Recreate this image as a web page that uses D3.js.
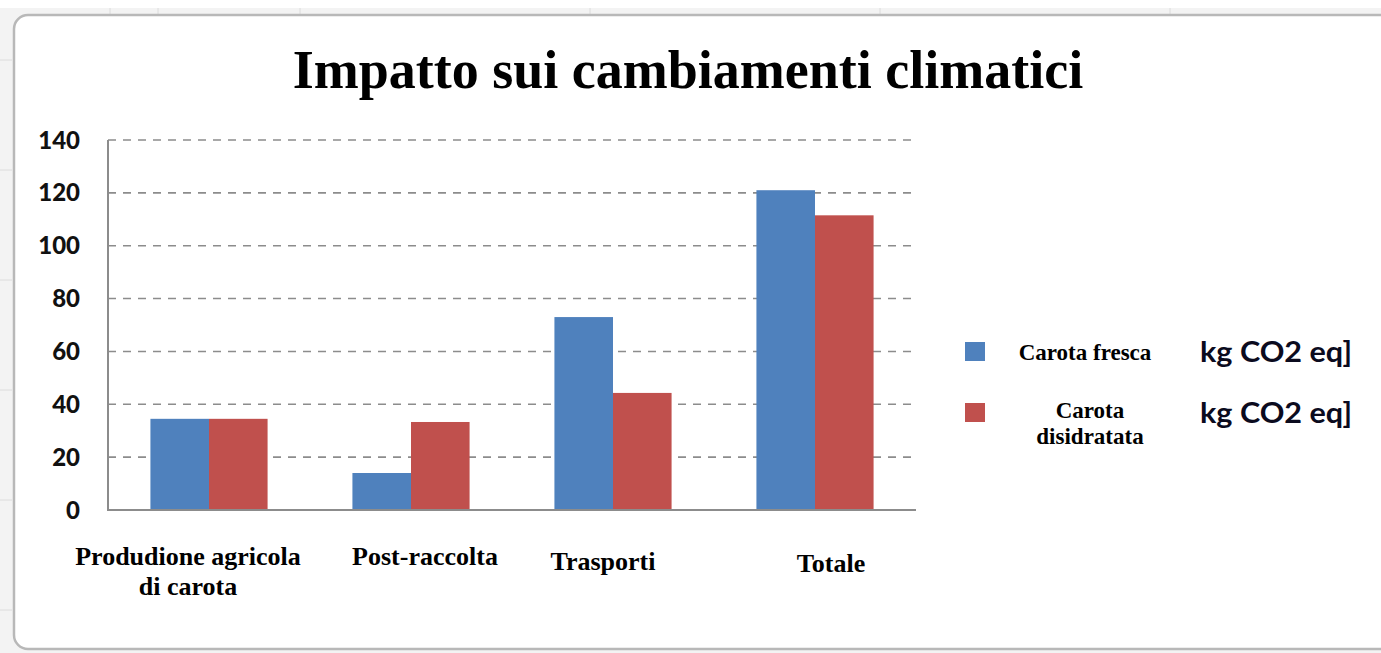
<!DOCTYPE html>
<html><head><meta charset="utf-8">
<script src="https://cdn.jsdelivr.net/npm/d3@7"></script>
<style>html,body{margin:0;padding:0;background:#fff;overflow:hidden}</style>
</head><body><svg id="c" width="1381" height="653"></svg>
<script>
const categories = [["Produdione agricola","di carota"],["Post-raccolta"],["Trasporti"],["Totale"]];
const carotaFresca = [34.5, 14, 73, 121];
const carotaDisidratata = [34.5, 33.3, 44.3, 111.5];
const seriesNames = [["Carota fresca"],["Carota","disidratata"]];
const unitLabel = "kg CO2 eq]";
const yTicks = [0,20,40,60,80,100,120,140];
const title = "Impatto sui cambiamenti climatici";

(function(){
const svg = d3.select("#c");
// Excel-like surroundings
svg.append("rect").attr("x",0).attr("y",0).attr("width",1381).attr("height",653).attr("fill","#f3f3f3");
svg.append("rect").attr("x",0).attr("y",0).attr("width",1381).attr("height",8).attr("fill","#ffffff");
[110,158,300,590,880,1170].forEach(x=>svg.append("line").attr("x1",x).attr("x2",x).attr("y1",8).attr("y2",16).attr("stroke","#dcdcdc"));
[60,170,280,390,500,610].forEach(yy=>svg.append("line").attr("x1",0).attr("x2",12).attr("y1",yy).attr("y2",yy).attr("stroke","#dcdcdc"));
svg.append("rect").attr("x",14).attr("y",15).attr("width",1385).attr("height",634).attr("rx",14)
  .attr("fill","#ffffff").attr("stroke","#b8b8b8").attr("stroke-width",2.5);

const pLeft=108, pRight=916, pTop=140, pBottom=510;
const x0 = d3.scaleBand().domain(d3.range(categories.length)).range([pLeft,pRight]).paddingInner(0.42).paddingOuter(0.21);
const x1 = d3.scaleBand().domain([0,1]).range([0,x0.bandwidth()]);
const y = d3.scaleLinear().domain([0,140]).range([pBottom,pTop]);

// gridlines
svg.append("g").selectAll("line").data(yTicks.filter(d=>d>0)).join("line")
  .attr("x1",pLeft).attr("x2",pRight).attr("y1",d=>y(d)).attr("y2",d=>y(d))
  .attr("stroke","#8c8c8c").attr("stroke-width",1.6).attr("stroke-dasharray","8,7");

// bars
const colors = ["#4f81bd","#c0504d"];
const series = [carotaFresca, carotaDisidratata];
series.forEach((vals,si)=>{
  svg.append("g").selectAll("rect").data(vals).join("rect")
    .attr("x",(d,i)=>x0(i)+x1(si)).attr("width",x1.bandwidth())
    .attr("y",d=>y(d)).attr("height",d=>y(0)-y(d)).attr("fill",colors[si]);
});

// axes lines
svg.append("line").attr("x1",pLeft).attr("x2",pLeft).attr("y1",pTop).attr("y2",pBottom+1).attr("stroke","#8c8c8c").attr("stroke-width",2);
svg.append("line").attr("x1",pLeft-1).attr("x2",pRight).attr("y1",pBottom).attr("y2",pBottom).attr("stroke","#8c8c8c").attr("stroke-width",2);

// y tick labels
svg.append("g").selectAll("text").data(yTicks).join("text")
  .attr("x",80).attr("y",d=>y(d)).attr("dy","0.36em").attr("text-anchor","end")
  .attr("font-family","Lato, 'Open Sans', sans-serif").attr("font-weight","900").attr("font-size",24)
  .attr("fill","#111").text(d=>d);

// x labels (Excel placed them slightly off-centre)
const labelDx = [-21, 14, -10, 16], labelDy = [0, 0, 5, 7];
const xl = svg.append("g");
categories.forEach((lines,i)=>{
  const t = xl.append("text").attr("text-anchor","middle")
    .attr("font-family","'Liberation Serif','Times New Roman',serif").attr("font-weight","bold").attr("font-size",26)
    .attr("fill","#000");
  lines.forEach((ln,j)=>t.append("tspan").attr("x",x0(i)+x0.bandwidth()/2+labelDx[i]).attr("y",565+labelDy[i]+j*30).text(ln));
});

// title
svg.append("text").attr("x",688).attr("y",88).attr("text-anchor","middle")
  .attr("font-family","'Liberation Serif','Times New Roman',serif").attr("font-weight","bold").attr("font-size",54)
  .attr("fill","#000").text(title);

// legend
const legY = [351, 412];
seriesNames.forEach((lines,i)=>{
  svg.append("rect").attr("x",965).attr("y",legY[i]-9).attr("width",20).attr("height",19).attr("fill",colors[i]);
  const t = svg.append("text").attr("text-anchor","middle")
    .attr("font-family","'Liberation Serif','Times New Roman',serif").attr("font-weight","bold").attr("font-size",23).attr("fill","#000");
  const cx = i===0 ? 1085 : 1090;
  const y0 = i===0 ? 360 : 418;
  lines.forEach((ln,j)=>t.append("tspan").attr("x",cx).attr("y",y0+j*26).text(ln));
  svg.append("text").attr("x",1200).attr("y",legY[i]+11).attr("font-family","Lato, 'Open Sans', sans-serif")
    .attr("font-weight","bold").attr("font-size",28).attr("textLength",152).attr("lengthAdjust","spacingAndGlyphs")
    .attr("fill","#0b0b1e").text(unitLabel);
});
})();
</script></body></html>
